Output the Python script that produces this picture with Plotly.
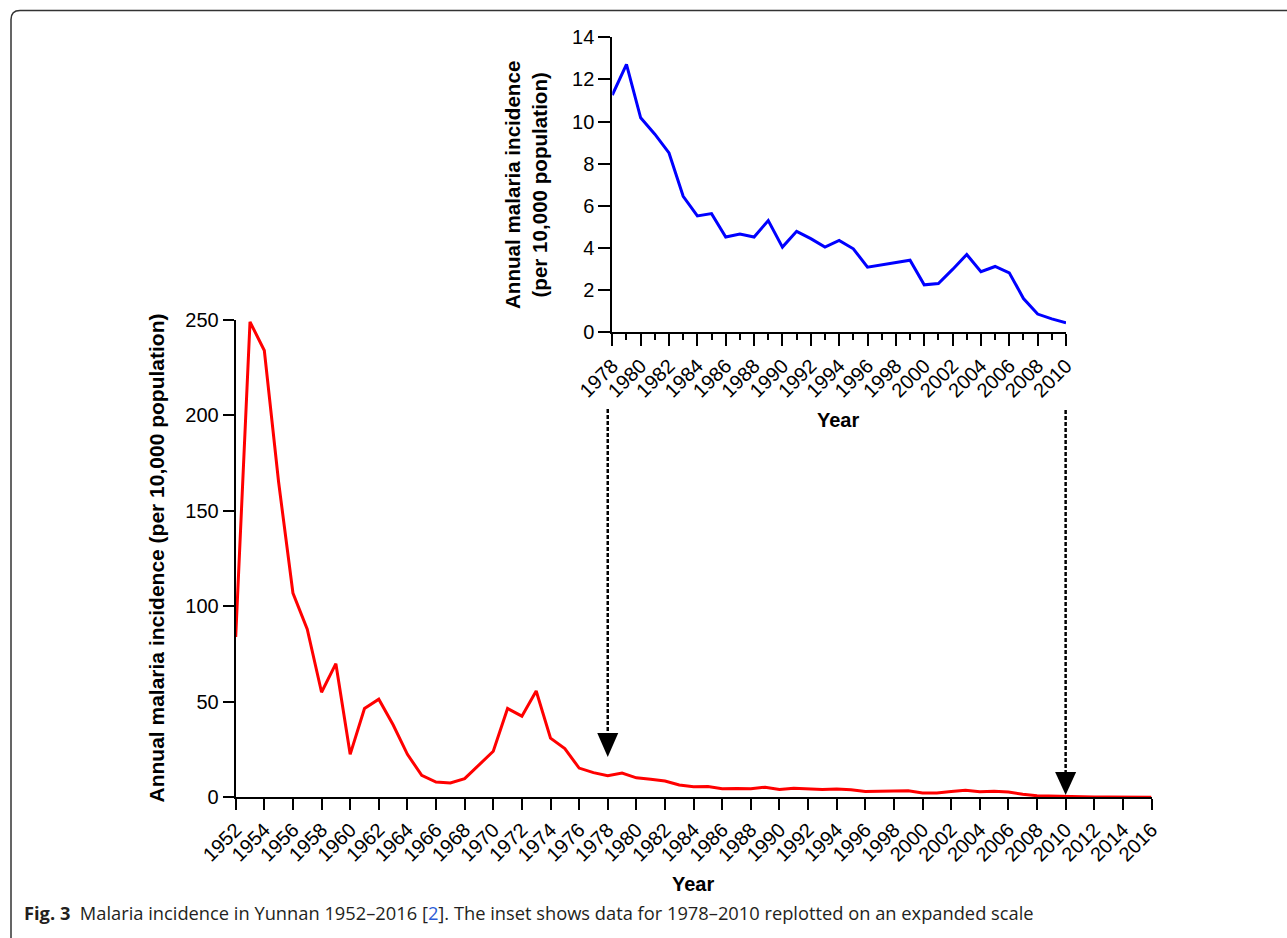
import plotly.graph_objects as go

# ---------------- data ----------------
years_main = list(range(1952, 2017))
incidence_main = [
    84, 249, 234, 165, 107, 88, 55, 70, 22.5, 46.5,        # 1952-1961
    51.4, 38, 22.5, 11.5, 8, 7.5, 9.8, 17, 24.1, 46.5,      # 1962-1971
    42.5, 55.7, 31, 25.5, 15.3, 12.9,                       # 1972-1977
    11.26, 12.72, 10.18, 9.40, 8.51, 6.45, 5.52, 5.63, 4.52, 4.66,  # 1978-1987
    4.52, 5.30, 4.04, 4.79, 4.44, 4.04, 4.36, 3.96, 3.09, 3.20,     # 1988-1997
    3.31, 3.42, 2.25, 2.31, 2.98, 3.69, 2.87, 3.12, 2.82, 1.60,     # 1998-2007
    0.86, 0.63, 0.44,                                               # 2008-2010
    0.3, 0.2, 0.15, 0.1, 0.08, 0.05,                                # 2011-2016
]
years_inset = list(range(1978, 2011))
incidence_inset = [
    11.26, 12.72, 10.18, 9.40, 8.51, 6.45, 5.52, 5.63, 4.52, 4.66,
    4.52, 5.30, 4.04, 4.79, 4.44, 4.04, 4.36, 3.96, 3.09, 3.20,
    3.31, 3.42, 2.25, 2.31, 2.98, 3.69, 2.87, 3.12, 2.82, 1.60,
    0.86, 0.63, 0.44,
]
main_yticks = [0, 50, 100, 150, 200, 250]
inset_yticks = [0, 2, 4, 6, 8, 10, 12, 14]

W, H = 1287, 938
TICKFONT = dict(family="Liberation Sans, Arial, sans-serif", size=20, color="black")
TITLEFONT = dict(family="Liberation Sans, Arial, sans-serif", size=20, color="black")


def px_x(p):
    return p / W


def px_y(p):
    return (H - p) / H


fig = go.Figure()

fig.add_trace(go.Scatter(
    x=years_main, y=incidence_main, mode="lines",
    line=dict(color="#ff0000", width=3), xaxis="x", yaxis="y",
    cliponaxis=False, showlegend=False, hoverinfo="x+y",
))
fig.add_trace(go.Scatter(
    x=years_inset, y=incidence_inset, mode="lines",
    line=dict(color="#0000ff", width=3), xaxis="x2", yaxis="y2",
    cliponaxis=False, showlegend=False, hoverinfo="x+y",
))

axis_common = dict(
    showgrid=False, zeroline=False, showline=True, linecolor="black",
    linewidth=2, ticks="outside", tickcolor="black", tickwidth=2,
    tickfont=TICKFONT, fixedrange=True, automargin=False,
)

fig.update_layout(
    template="none",
    width=W, height=H, autosize=False,
    margin=dict(l=0, r=0, t=0, b=0, pad=0),
    paper_bgcolor="white", plot_bgcolor="rgba(0,0,0,0)",
    showlegend=False,
    xaxis=dict(
        **axis_common,
        domain=[px_x(235.7), px_x(1151.5)],
        range=[years_main[0], years_main[-1]],
        tickmode="linear", tick0=1952, dtick=2, tickangle=-45, ticklen=11,
        anchor="y",
    ),
    yaxis=dict(
        **axis_common,
        domain=[px_y(797.3), px_y(320)],
        range=[0, 250], tickmode="array", tickvals=main_yticks,
        ticklen=11, anchor="x",
    ),
    xaxis2=dict(
        **axis_common,
        domain=[px_x(612.3), px_x(1066)],
        range=[years_inset[0], years_inset[-1]],
        tickmode="linear", tick0=1978, dtick=2, tickangle=-45, ticklen=12,
        minor=dict(ticks="outside", ticklen=6, tickwidth=2, tickcolor="black", dtick=1, tick0=1978),
        anchor="y2",
    ),
    yaxis2=dict(
        **axis_common,
        domain=[px_y(332.2), px_y(37.3)],
        range=[0, 14], tickmode="array", tickvals=inset_yticks,
        ticklen=12, anchor="x2",
    ),
)

annotations = [
    dict(text="<b>Annual malaria incidence (per 10,000 population)</b>",
         x=px_x(155.5), y=px_y(558), xref="paper", yref="paper",
         textangle=-90, showarrow=False, font=dict(TITLEFONT, size=21),
         xanchor="center", yanchor="middle"),
    dict(text="<b>Year</b>", x=px_x(693), y=px_y(884), xref="paper", yref="paper",
         showarrow=False, font=TITLEFONT, xanchor="center", yanchor="middle"),
    dict(text="<b>Annual malaria incidence<br>(per 10,000 population)</b>",
         x=px_x(526), y=px_y(185), xref="paper", yref="paper",
         textangle=-90, showarrow=False, font=dict(TITLEFONT, size=20.6),
         xanchor="center", yanchor="middle"),
    dict(text="<b>Year</b>", x=px_x(838), y=px_y(420), xref="paper", yref="paper",
         showarrow=False, font=TITLEFONT, xanchor="center", yanchor="middle"),
    dict(text=("<b>Fig. 3</b>  Malaria incidence in Yunnan 1952\u20132016 "
               "[<span style='color:#2a5bd7'>2</span>]. The inset shows data for "
               "1978\u20132010 replotted on an expanded scale"),
         x=px_x(22), y=px_y(912), xref="paper", yref="paper",
         showarrow=False, xanchor="left", yanchor="middle",
         font=dict(family="Open Sans, Noto Sans, sans-serif", size=18.3, color="#231f20")),
]
fig.update_layout(annotations=annotations)

# dashed arrows linking the inset range to the main chart
shapes = []
arrow_specs = [
    (years_inset[0], 409, 733, 757),
    (years_inset[-1], 410, 772, 795),
]
main_px_per_year = (1151.5 - 235.7) / (years_main[-1] - years_main[0])
half_w_years = 10.5 / main_px_per_year
for yr, top_px, base_px, tip_px in arrow_specs:
    shapes.append(dict(type="line", xref="x", yref="paper",
                       x0=yr, x1=yr, y0=px_y(top_px), y1=px_y(base_px),
                       line=dict(color="black", width=2.5, dash="4px,2px")))
    shapes.append(dict(type="path", xref="x", yref="paper",
                       path=(f"M {yr - half_w_years},{px_y(base_px)} "
                             f"L {yr + half_w_years},{px_y(base_px)} "
                             f"L {yr},{px_y(tip_px)} Z"),
                       fillcolor="black", line=dict(color="black", width=0)))

# figure frame (top and left borders with rounded corner)
r = 9
x0, ytop = 11, 10.5
frame_path = (f"M {px_x(x0)},{px_y(H + 5)} L {px_x(x0)},{px_y(ytop + r)} "
              f"Q {px_x(x0)},{px_y(ytop)} {px_x(x0 + r)},{px_y(ytop)} "
              f"L {px_x(W + 5)},{px_y(ytop)}")
shapes.append(dict(type="path", xref="paper", yref="paper", path=frame_path,
                   line=dict(color="#333333", width=1.5)))
fig.update_layout(shapes=shapes)

fig.write_html(
    "out.html",
    config={"displayModeBar": False},
    post_script="document.body.style.margin='0';document.body.style.overflow='hidden';",
)
